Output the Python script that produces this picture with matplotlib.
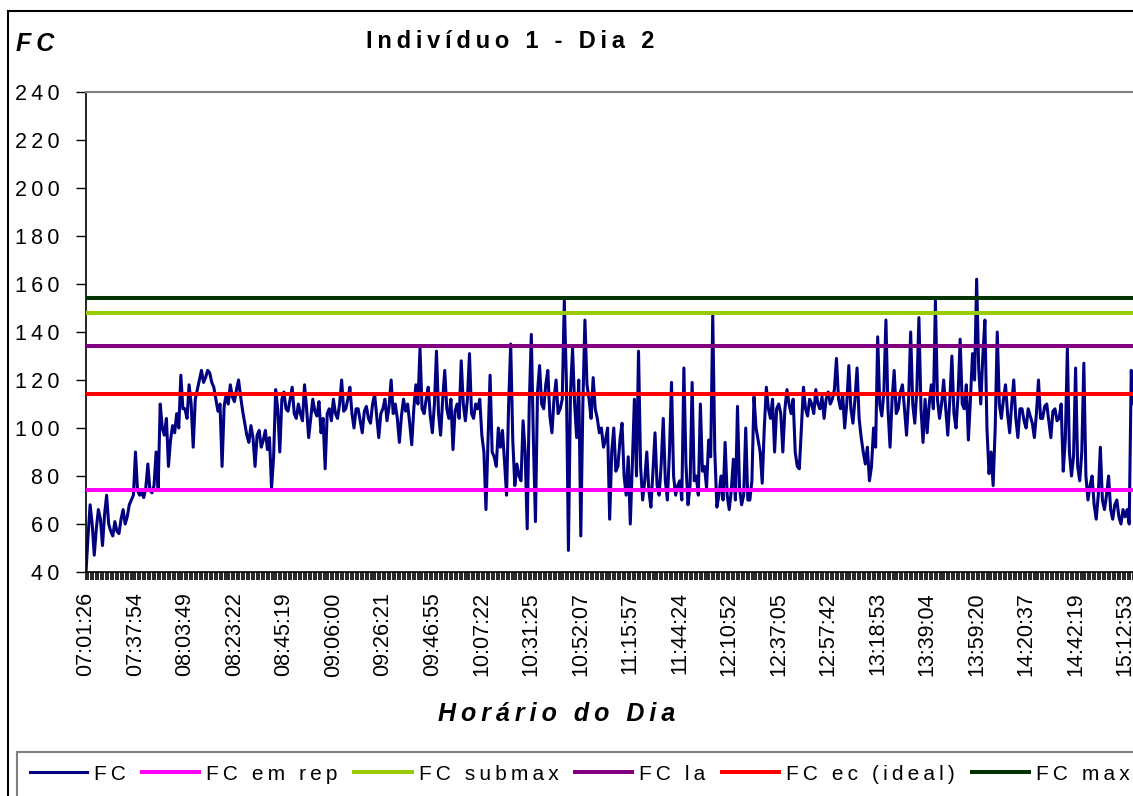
import numpy as np
import matplotlib
matplotlib.use('Agg')
import matplotlib.pyplot as plt
from matplotlib.ticker import MultipleLocator, FixedLocator, FixedFormatter
from matplotlib.patches import Rectangle

plt.rcParams['font.family'] = ['Liberation Sans', 'DejaVu Sans']

# rotulos do eixo x (um a cada 24 amostras)
horarios = ['07:01:26', '07:37:54', '08:03:49', '08:23:22', '08:45:19', '09:06:00',
            '09:26:21', '09:46:55', '10:07:22', '10:31:25', '10:52:07', '11:15:57',
            '11:44:24', '12:10:52', '12:37:05', '12:57:42', '13:18:53', '13:39:04',
            '13:59:20', '14:20:37', '14:42:19', '15:12:53']
amostras_por_rotulo = 24

# frequencia cardiaca (uma linha por intervalo entre rotulos)
fc = [40, 55, 68, 60, 47, 58, 66, 62, 51, 64, 72, 60, 57, 55, 61, 57, 56, 62, 66, 60, 63, 68, 70, 72,
      90, 74, 72, 73, 71, 75, 85, 74, 73, 76, 90, 75, 110, 100, 97, 104, 84, 95, 101, 98, 106, 100, 122, 108,
      108, 104, 118, 110, 92, 112, 116, 120, 124, 119, 121, 124, 123, 119, 117, 112, 107, 110, 84, 109, 114, 110, 118, 113,
      111, 116, 120, 113, 107, 102, 97, 94, 101, 96, 84, 97, 99, 92, 95, 99, 91, 96, 75, 88, 116, 108, 90, 112,
      115, 108, 107, 112, 117, 106, 104, 110, 106, 103, 118, 108, 96, 104, 112, 107, 105, 111, 98, 104, 83, 106, 108, 103,
      112, 106, 104, 110, 120, 107, 108, 112, 117, 106, 100, 108, 108, 103, 98, 107, 109, 104, 102, 110, 114, 105, 96, 106,
      108, 112, 103, 109, 120, 106, 110, 104, 94, 105, 112, 107, 110, 102, 93, 108, 118, 110, 133, 108, 106, 112, 117, 105,
      98, 110, 132, 106, 97, 112, 124, 108, 104, 112, 91, 107, 110, 104, 128, 110, 103, 112, 131, 106, 104, 110, 108, 112,
      97, 90, 66, 95, 122, 90, 88, 84, 100, 92, 99, 86, 72, 110, 135, 95, 76, 85, 80, 78, 103, 90, 58, 110,
      139, 95, 61, 115, 126, 110, 108, 118, 124, 105, 98, 112, 120, 106, 108, 112, 153, 120, 49, 115, 133, 110, 96, 120,
      55, 110, 145, 118, 112, 104, 121, 108, 104, 98, 100, 92, 95, 100, 62, 90, 100, 82, 84, 95, 102, 80, 72, 88,
      60, 85, 112, 80, 132, 84, 70, 78, 90, 74, 67, 82, 98, 76, 72, 85, 104, 78, 70, 90, 119, 80, 72, 76,
      78, 70, 125, 85, 68, 76, 119, 78, 80, 72, 110, 82, 84, 75, 95, 88, 147, 90, 67, 72, 80, 70, 94, 72,
      66, 74, 87, 70, 109, 75, 68, 72, 100, 70, 70, 78, 113, 100, 95, 90, 77, 100, 117, 108, 104, 112, 90, 108,
      110, 106, 90, 108, 116, 110, 106, 112, 90, 84, 83, 100, 117, 108, 105, 112, 110, 106, 116, 110, 108, 113, 104, 112,
      115, 110, 112, 116, 129, 112, 108, 114, 100, 110, 126, 108, 102, 112, 125, 104, 96, 90, 85, 92, 78, 84, 100, 92,
      138, 110, 105, 115, 145, 108, 92, 112, 124, 106, 108, 115, 118, 108, 97, 112, 140, 110, 102, 116, 146, 108, 94, 112,
      98, 110, 118, 108, 153, 112, 104, 110, 120, 108, 97, 112, 130, 106, 100, 114, 137, 110, 108, 118, 95, 112, 131, 120,
      162, 125, 110, 130, 145, 100, 81, 90, 76, 100, 140, 110, 104, 112, 118, 106, 98, 110, 120, 104, 96, 108, 108, 103,
      100, 108, 105, 102, 96, 106, 120, 104, 104, 109, 110, 103, 96, 107, 108, 103, 104, 110, 82, 95, 133, 90, 80, 88,
      125, 84, 78, 90, 127, 80, 70, 76, 80, 68, 62, 72, 92, 70, 66, 72, 80, 66, 62, 68, 70, 63, 60, 66,
      63, 66, 60, 124, 110, 115]

# linhas de referencia
ref_nomes = ['FC em rep', 'FC submax', 'FC la', 'FC ec (ideal)', 'FC max']
ref_valores = [74, 148, 134, 114, 154]
ref_cores = ['#FF00FF', '#99CC00', '#800080', '#FF0000', '#003300']
y_ticks = list(range(40, 241, 20))


def esp(s):
    # imita o espacamento de letras do Excel
    return '\u2009'.join(s)


W, H = 1133, 796
fig = plt.figure(figsize=(W / 100, H / 100), dpi=100)
px = 49.48  # pixels por rotulo
ax = fig.add_axes([86 / W, 1 - 572 / H, 21.3 * px / W, 480 / H])

x = np.arange(len(fc)) / amostras_por_rotulo
ax.plot(x, fc, color='#000080', lw=2.2, label=esp('FC'), zorder=2)
for nome, val, cor in zip(ref_nomes, ref_valores, ref_cores):
    ax.axhline(val, color=cor, lw=2.9, label=esp(nome), zorder=3)

ax.set_xlim(0, 21.3)
ax.set_ylim(40, 240)
ax.yaxis.set_major_locator(FixedLocator(y_ticks))
ax.yaxis.set_major_formatter(FixedFormatter([esp(str(v)) for v in y_ticks]))
ax.xaxis.set_major_locator(FixedLocator(range(len(horarios))))
ax.xaxis.set_major_formatter(FixedFormatter(horarios))
ax.xaxis.set_minor_locator(MultipleLocator(0.05))
ax.tick_params(axis='y', direction='out', length=7, width=1, labelsize=15.5, pad=12)
ax.tick_params(axis='x', which='both', direction='out', length=5.5, width=1.2,
               labelsize=15.5, pad=9, labelrotation=90)
for s in ['left', 'bottom']:
    ax.spines[s].set_color('black')
    ax.spines[s].set_linewidth(1.2)
for s in ['top', 'right']:
    ax.spines[s].set_color('#808080')
    ax.spines[s].set_linewidth(1.5)

fig.text(510 / W, 1 - 41 / H, esp('Indivíduo 1 - Dia 2'), ha='center', va='center',
         fontsize=17, fontweight='bold')
fig.text(16 / W, 1 - 44 / H, esp('FC'), ha='left', va='center',
         fontsize=18, fontweight='bold', style='italic')
fig.text(557 / W, 1 - 714 / H, esp('Horário do Dia'), ha='center', va='center',
         fontsize=18, fontweight='bold', style='italic')

# moldura externa do grafico e caixa da legenda
fig.add_artist(Rectangle((8 / W, -0.1), 2, 1.1 - 11.5 / H, transform=fig.transFigure,
                         fill=False, ec='black', lw=1.5))
fig.add_artist(Rectangle((17 / W, -0.1), 2, 0.1 + 1 - 752 / H, transform=fig.transFigure,
                         fill=False, ec='#808080', lw=1.5))

fig.legend(loc='upper left', bbox_to_anchor=(17 / W, 1 - 752 / H), ncol=6,
           fontsize=15, frameon=False, handlelength=2.75, handletextpad=0.33,
           columnspacing=0.8, borderpad=0.6, borderaxespad=0)

fig.savefig('out.png', dpi=100)
